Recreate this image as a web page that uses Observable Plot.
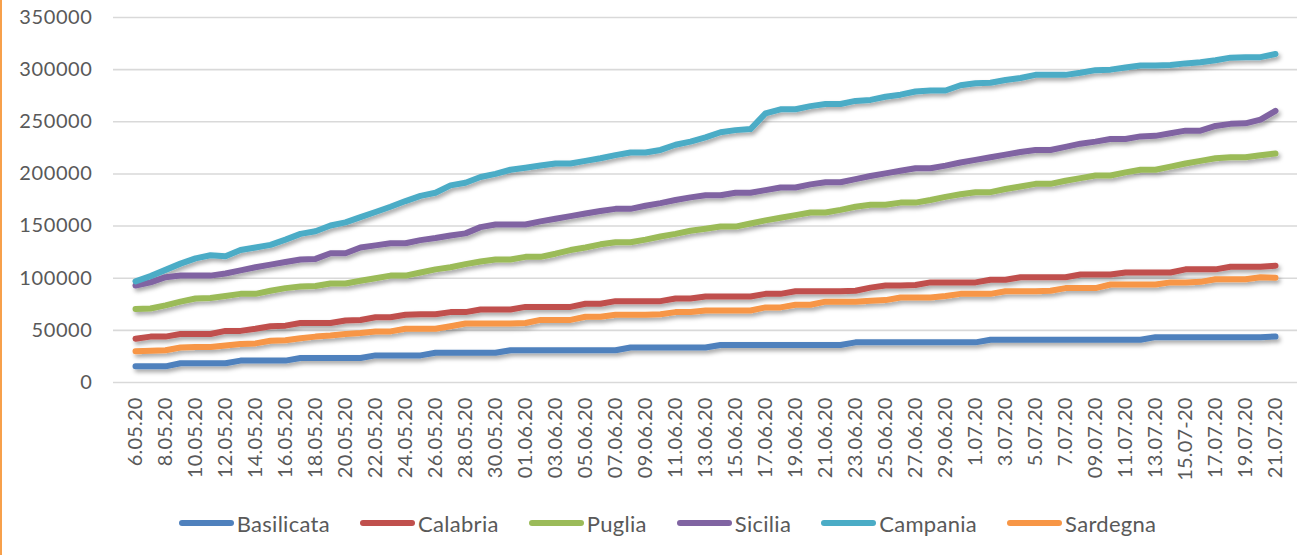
<!DOCTYPE html>
<html>
<head>
<meta charset="utf-8">
<script src="https://cdn.jsdelivr.net/npm/d3@7"></script>
<script src="https://cdn.jsdelivr.net/npm/@observablehq/plot@0.6"></script>
<style>
  html, body { margin: 0; padding: 0; background: #fff; }
  #wrap { position: relative; width: 1305px; height: 555px; border-left: 2px solid #f7a04b; }
  #legend { display: flex; justify-content: center; align-items: center; padding-left: 26px;
            font-family: Lato, "Open Sans", sans-serif; font-size: 22px; letter-spacing: 0.3px; color: #595959; height: 46px; }
  .item { display: flex; align-items: center; margin: 0 15px; }
  .sw { display: inline-block; width: 55px; height: 6px; border-radius: 3px; margin-right: 3px; }
</style>
</head>
<body>
<div id="wrap"><div id="chart"></div><div id="legend"></div></div>
<script>
const dates = ["6.05.20","7.05.20","8.05.20","9.05.20","10.05.20","11.05.20","12.05.20","13.05.20","14.05.20","15.05.20","16.05.20","17.05.20","18.05.20","19.05.20","20.05.20","21.05.20","22.05.20","23.05.20","24.05.20","25.05.20","26.05.20","27.05.20","28.05.20","29.05.20","30.05.20","31.05.20",
"01.06.20","02.06.20","03.06.20","04.06.20","05.06.20","06.06.20","07.06.20","08.06.20","09.06.20","10.06.20","11.06.20","12.06.20","13.06.20","14.06.20","15.06.20","16.06.20","17.06.20","18.06.20","19.06.20","20.06.20","21.06.20","22.06.20","23.06.20","24.06.20","25.06.20","26.06.20","27.06.20","28.06.20","29.06.20","30.06.20",
"1.07.20","2.07.20","3.07.20","4.07.20","5.07.20","6.07.20","7.07.20","08.07.20","09.07.20","10.07.20","11.07.20","12.07.20","13.07.20","14.07.20","15.07-20","16.07.20","17.07.20","18.07.20","19.07.20","20.07.20","21.07.20"];

const xTicks = ["6.05.20","8.05.20","10.05.20","12.05.20","14.05.20","16.05.20","18.05.20","20.05.20","22.05.20","24.05.20","26.05.20","28.05.20","30.05.20","01.06.20","03.06.20","05.06.20","07.06.20","09.06.20","11.06.20","13.06.20","15.06.20","17.06.20","19.06.20","21.06.20","23.06.20","25.06.20","27.06.20","29.06.20","1.07.20","3.07.20","5.07.20","7.07.20","09.07.20","11.07.20","13.07.20","15.07-20","17.07.20","19.07.20","21.07.20"];

const yTicks = [0, 50000, 100000, 150000, 200000, 250000, 300000, 350000];

const seriesNames = ["Basilicata", "Calabria", "Puglia", "Sicilia", "Campania", "Sardegna"];
const seriesColors = ["#4f81bd", "#c0504d", "#9bbb59", "#8064a2", "#4bacc6", "#f79646"];

const basilicata = [15500,15500,15500,18500,18500,18500,18500,21000,21000,21000,
 21000,23500,23500,23500,23500,23500,26000,26000,26000,26000,
 28500,28500,28500,28500,28500,31000,31000,31000,31000,31000,
 31000,31000,31000,33500,33500,33500,33500,33500,33500,36000,
 36000,36000,36000,36000,36000,36000,36000,36000,38500,38500,
 38500,38500,38500,38500,38500,38500,38500,41000,41000,41000,
 41000,41000,41000,41000,41000,41000,41000,41000,43500,43500,
 43500,43500,43500,43500,43500,43500,44000];

const calabria = [42000,44000,44000,46500,46500,46500,49500,49500,51500,54000,
 54500,57000,57000,57000,59500,60000,62500,62500,65000,65500,
 65500,67500,67500,70000,70000,70000,72500,72500,72500,72500,
 75500,75500,78000,78000,78000,78000,80500,80500,82500,82500,
 82500,82500,85000,85000,87500,87500,87500,87500,88000,91000,
 93000,93000,93500,96000,96000,96000,96000,98500,98500,101000,
 101000,101000,101000,103500,103500,103500,105500,105500,105500,105500,
 108500,108500,108500,111000,111000,111000,112000];

const puglia = [70500,71000,74000,77500,80500,81000,83000,85000,85000,88000,
 90500,92000,92500,95000,95000,97500,100000,102500,102500,105500,
 108500,110500,113500,116000,118000,118000,120500,120500,123500,127000,
 129500,132500,134500,134500,137000,140000,142500,145500,147500,149500,
 149500,152500,155500,158000,160500,163000,163000,165500,168500,170500,
 170500,172500,172500,175000,178000,180500,182500,182500,185500,188000,
 190500,190500,193500,196000,198500,198500,201500,204000,204000,207000,
 210000,212500,215000,216000,216000,218000,219500];

const sicilia = [93000,96000,101000,102500,102500,102500,104500,107500,110500,113000,
 115500,118000,118500,124000,124000,129500,131500,133500,133500,136500,
 138500,141000,143000,149000,151500,151500,151500,154500,157000,159500,
 162000,164500,166500,166500,169500,172000,175000,177500,179500,179500,
 182000,182000,184500,187000,187000,190000,192000,192000,195000,198000,
 200500,203000,205500,205500,208000,211000,213500,216000,218500,221000,
 223000,223000,226000,229000,231000,233500,233500,236000,236500,239000,
 241500,241500,246000,248000,248500,252000,260500];

const campania = [97000,102000,108000,114000,119000,122000,121000,127000,129500,132000,
 137000,142500,145000,150500,153500,158500,163500,168500,174000,179000,
 182000,189000,191500,197000,200000,204000,206000,208000,210000,210000,
 212500,215000,218000,220500,220500,223000,228000,231000,235000,240000,
 242000,243000,258000,262000,262000,265000,267000,267000,270000,271000,
 274000,276000,279000,280000,280000,285000,287000,287500,290000,292000,
 295000,295000,295000,297000,299500,300000,302000,304000,304000,304500,
 306000,307000,309000,311500,312000,312000,315000];

const sardegna = [30000,30500,31000,33500,34000,34000,35500,37000,37500,40000,
 40500,42500,44000,45000,46500,47500,49000,49000,51500,51500,
 51500,54000,56500,56500,56500,56500,57000,60000,60000,60000,
 63000,63000,65000,65000,65000,65500,67500,67500,69000,69000,
 69000,69000,72000,72000,74500,74500,77500,77500,77500,78500,
 79000,81500,81500,81500,83000,85000,85000,85000,87500,87500,
 87500,88000,90500,90500,90500,94000,94000,94000,94000,96000,
 96000,96500,99000,99000,99000,101000,100500];

const seriesValues = [basilicata, calabria, puglia, sicilia, campania, sardegna];
const rows = [];
seriesNames.forEach((name, s) => {
  seriesValues[s].forEach((v, i) => rows.push({date: dates[i], region: name, value: v}));
});

const chart = Plot.plot({
  width: 1305,
  height: 500,
  marginLeft: 111,
  marginRight: 10,
  marginTop: 17,
  marginBottom: 118,
  style: {fontFamily: "Lato, 'Open Sans', sans-serif", fontSize: "20px", color: "#595959", background: "#fff"},
  x: {type: "point", domain: dates, padding: 0.5, ticks: xTicks, tickRotate: -90, tickSize: 0, tickPadding: 15, label: null},
  y: {domain: [0, 350000], ticks: yTicks, tickSize: 0, tickPadding: 21, tickFormat: d => String(d), label: null},
  color: {domain: seriesNames, range: seriesColors},
  marks: [
    Plot.ruleY(yTicks, {stroke: "#d9d9d9", strokeWidth: 1.6}),
    Plot.line(rows, {x: "date", y: "value", z: "region", stroke: "region", strokeWidth: 6, strokeLinecap: "round", strokeLinejoin: "round"})
  ]
});

const svg = d3.select(chart);
const defs = svg.insert("defs", ":first-child");
const f = defs.append("filter").attr("id", "shadow").attr("x", "-5%").attr("y", "-20%").attr("width", "110%").attr("height", "140%");
f.append("feDropShadow").attr("dx", 2).attr("dy", 3).attr("stdDeviation", 2).attr("flood-color", "#000").attr("flood-opacity", 0.35);
svg.selectAll('g[aria-label="line"]').attr("filter", "url(#shadow)");
svg.selectAll('g[aria-label="y-axis tick label"] text, g[aria-label="y-axis"] text').style("letter-spacing", "0.6px");
svg.selectAll('g[aria-label="x-axis tick label"] text, g[aria-label="x-axis"] text').style("letter-spacing", "0.2px");

document.getElementById("chart").appendChild(chart);

const legend = document.getElementById("legend");
seriesNames.forEach((name, i) => {
  const item = document.createElement("div");
  item.className = "item";
  const sw = document.createElement("span");
  sw.className = "sw";
  sw.style.background = seriesColors[i];
  const lb = document.createElement("span");
  lb.textContent = name;
  item.appendChild(sw);
  item.appendChild(lb);
  legend.appendChild(item);
});
</script>
</body>
</html>
